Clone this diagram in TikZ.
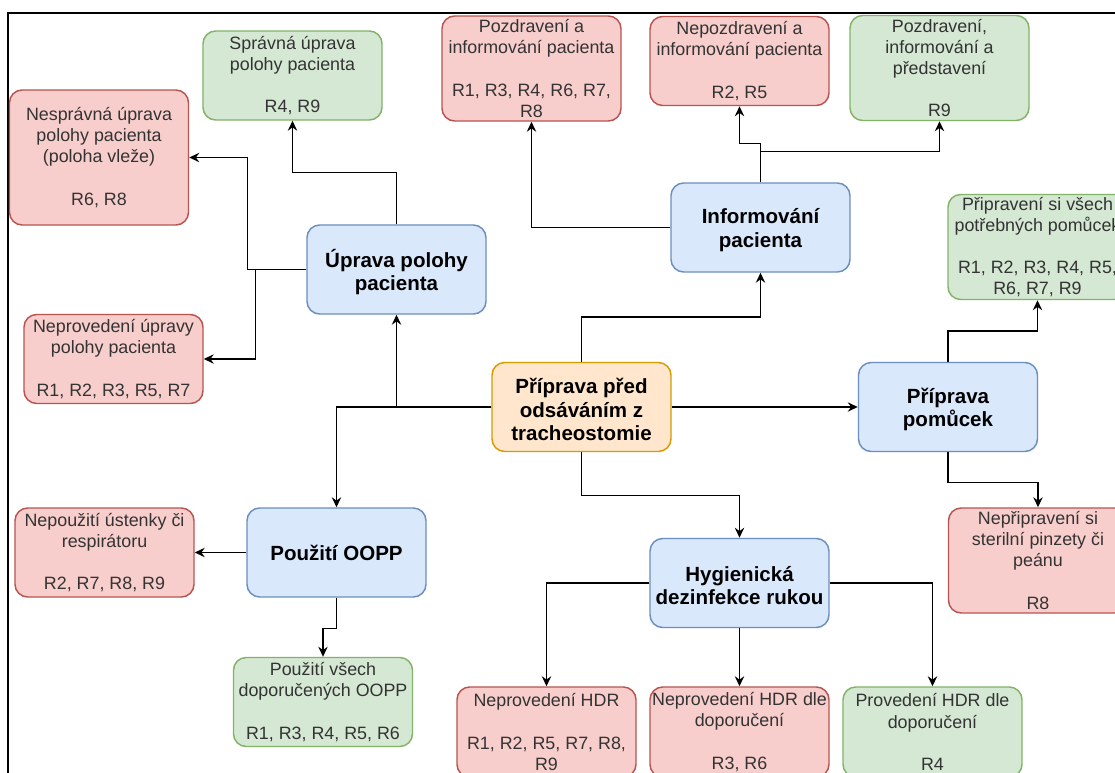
\documentclass[tikz,border=0pt]{standalone}
\usepackage{fontspec}
\setmainfont{Liberation Sans}
\usetikzlibrary{arrows.meta}
\definecolor{bluefill}{HTML}{DAE8FC}\definecolor{bluedraw}{HTML}{6C8EBF}
\definecolor{greenfill}{HTML}{D5E8D4}\definecolor{greendraw}{HTML}{82B366}
\definecolor{redfill}{HTML}{F8CECC}\definecolor{reddraw}{HTML}{B85450}
\definecolor{orangefill}{HTML}{FFE6CC}\definecolor{orangedraw}{HTML}{D79B00}
\definecolor{txtgray}{HTML}{333333}
\begin{document}
\begin{tikzpicture}[x=0.75pt,y=-0.75pt,
  box/.style={rectangle,rounded corners=9.5pt,line width=1.1pt,minimum width=134.25pt,minimum height=66.75pt,inner sep=0pt},
  tall/.style={minimum height=78.75pt},
  taller/.style={minimum height=101.25pt},
  bluebox/.style={box,fill=bluefill,draw=bluedraw},
  greenbox/.style={box,fill=greenfill,draw=greendraw},
  redbox/.style={box,fill=redfill,draw=reddraw},
  orangebox/.style={box,fill=orangefill,draw=orangedraw},
  txt/.style={align=center,inner sep=0pt,text=txtgray,font=\fontsize{13.4pt}{15.8pt}\selectfont},
  btxt/.style={align=center,inner sep=0pt,text=black,font=\bfseries\fontsize{15.4pt}{17.5pt}\selectfont},
  arr/.style={draw=black,line width=1.1pt,-{Stealth[length=7.5pt,width=7pt,inset=2.5pt]}},
  frame/.style={draw=black,line width=1.4pt}]
\clip (0,0) rectangle (1115,772);
\fill[white] (0,0) rectangle (1115,772);
\draw[frame] (8,800) -- (8,13) -- (1200,13);

% top level
\node[orangebox,label={[btxt,yshift=-2pt]center:{Příprava před\\odsáváním z\\tracheostomie}}] (ora) at (581.5,407) {};
\node[bluebox,label={[btxt,yshift=-2pt]center:{Úprava polohy\\pacienta}}] (upr) at (396.5,269.5) {};
\node[bluebox,label={[btxt,yshift=-2pt]center:{Informování\\pacienta}}] (inf) at (760.5,227.5) {};
\node[bluebox,label={[btxt,yshift=-2pt]center:{Příprava\\pomůcek}}] (pom) at (948,407) {};
\node[bluebox,label={[btxt,yshift=-2pt]center:{Hygienická\\dezinfekce rukou}}] (hyg) at (739.5,583) {};
\node[bluebox,label={[btxt]center:{Použití OOPP}}] (oopp) at (336.5,552.5) {};

% outcomes
\node[greenbox,label={[txt]center:{Správná úprava\\polohy pacienta\\~\\R4, R9}}] (spr) at (292.5,75.5) {};
\node[redbox,taller,label={[txt]center:{Nesprávná úprava\\polohy pacienta\\(poloha vleže)\\~\\R6, R8}}] (nes) at (99,157.5) {};
\node[redbox,label={[txt]center:{Neprovedení úpravy\\polohy pacienta\\~\\R1, R2, R3, R5, R7}}] (nepu) at (113.5,359) {};
\node[redbox,tall,label={[txt]center:{Pozdravení a\\informování pacienta\\~\\R1, R3, R4, R6, R7,\\R8}}] (poz) at (531.5,68.5) {};
\node[redbox,label={[txt]center:{Nepozdravení a\\informování pacienta\\~\\R2, R5}}] (nepoz) at (739.5,61) {};
\node[greenbox,tall,label={[txt]center:{Pozdravení,\\informování a\\představení\\~\\R9}}] (pozp) at (939.5,68) {};
\node[greenbox,tall,label={[txt]center:{Připravení si všech\\potřebných pomůcek\\~\\R1, R2, R3, R4, R5,\\R6, R7, R9}}] (pri) at (1037.5,247) {};
\node[redbox,tall,label={[txt]center:{Nepřipravení si\\sterilní pinzety či\\peánu\\~\\R8}}] (nepr) at (1038,560.5) {};
\node[redbox,label={[txt]center:{Nepoužití ústenky či\\respirátoru\\~\\R2, R7, R8, R9}}] (nepou) at (104.5,552.5) {};
\node[greenbox,label={[txt]center:{Použití všech\\doporučených OOPP\\~\\R1, R3, R4, R5, R6}}] (vse) at (323,702) {};
\node[redbox,minimum height=67.5pt,label={[txt]center:{Neprovedení HDR\\~\\R1, R2, R5, R7, R8,\\R9}}] (nhdr) at (546.5,732) {};
\node[redbox,minimum height=67.5pt,label={[txt]center:{Neprovedení HDR dle\\doporučení\\~\\R3, R6}}] (nhdrd) at (739.5,732) {};
\node[greenbox,minimum height=67.5pt,label={[txt]center:{Provedení HDR dle\\doporučení\\~\\R4}}] (phdr) at (932.5,732) {};

% connectors
\draw[arr] (upr.north) -- ++(0,-52) -| (spr.south);
\draw[arr] (upr.west) -- ++(-59,0) |- (nes.east);
\draw[arr] (upr.west) -- ++(-51,0) |- (nepu.east);
\draw[arr] (ora.west) -| (upr.south);
\draw[arr] (ora.west) -| (oopp.north);
\draw[arr] (ora.north) -- ++(0,-45) -| (inf.south);
\draw[arr] (ora.east) -- (pom.west);
\draw[arr] (ora.south) -- ++(0,43) -| (hyg.north);
\draw[arr] (pom.north) -- ++(0,-31) -| (pri.south);
\draw[arr] (pom.south) -- ++(0,30) -| (nepr.north);
\draw[arr] (hyg.west) -| (nhdr.north);
\draw[arr] (hyg.east) -| (phdr.north);
\draw[arr] (hyg.south) -- (nhdrd.north);
\draw[arr] (inf.west) -| (poz.south);
\draw[arr] (inf.north) -- ++(0,-39) -| (nepoz.south);
\draw[arr] (inf.north) -- ++(0,-31) -| (pozp.south);
\draw[arr] (oopp.west) -- (nepou.east);
\draw[arr] (oopp.south) -- ++(0,31) -| (vse.north);
\end{tikzpicture}
\end{document}
